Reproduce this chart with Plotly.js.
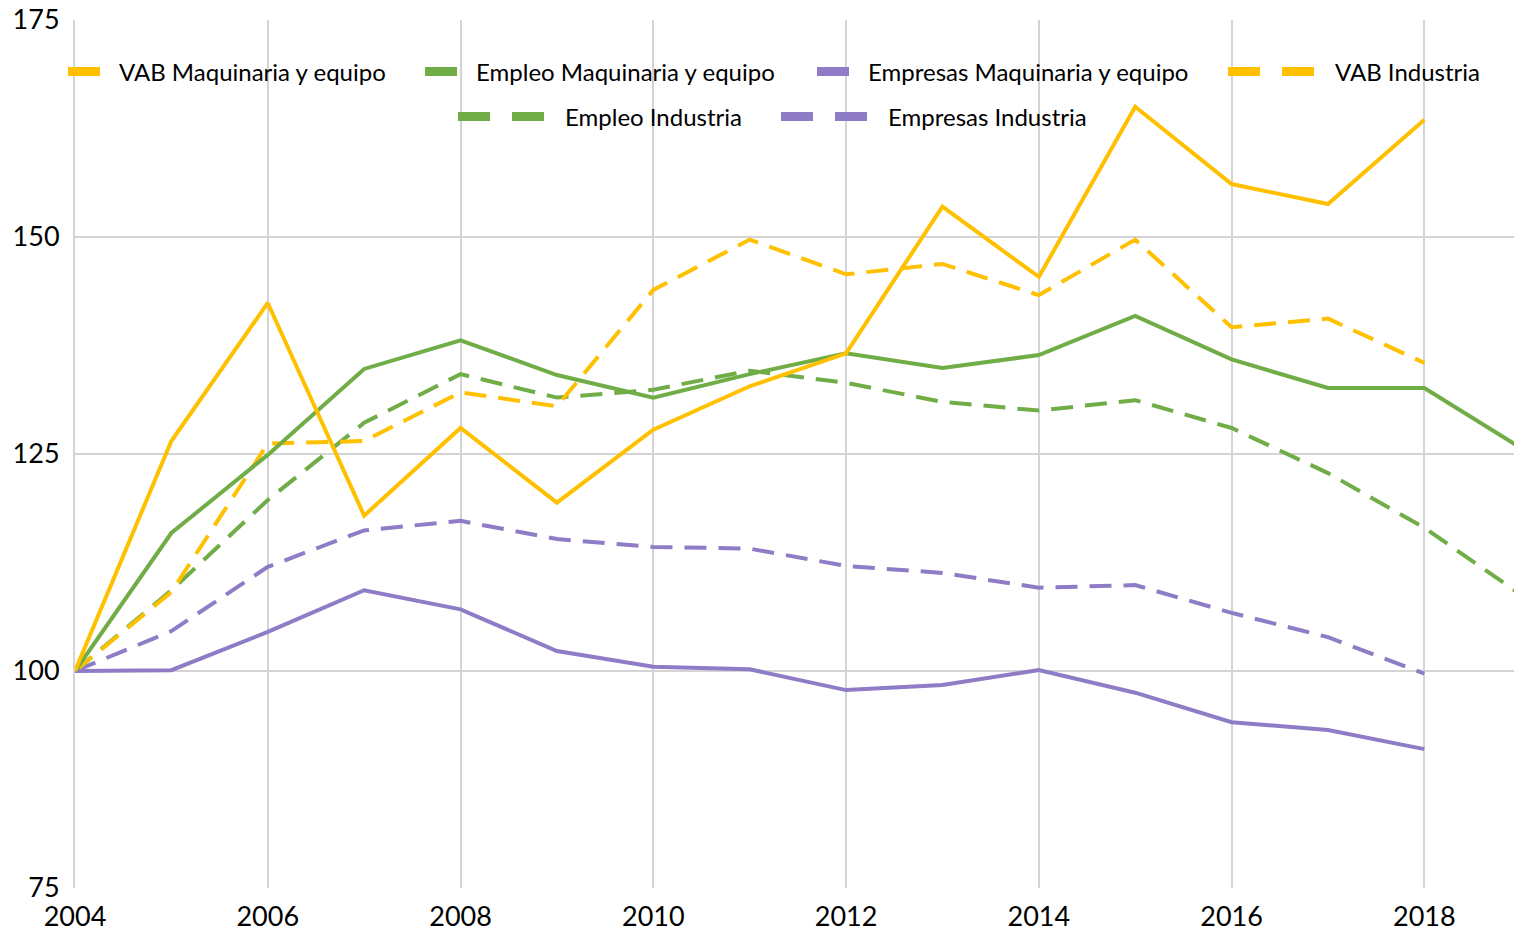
<!DOCTYPE html>
<html>
<head>
<meta charset="utf-8">
<script src="https://cdn.plot.ly/plotly-3.0.1.min.js"></script>
<style>html,body{margin:0;padding:0;background:#fff;}#chart{width:1514px;height:934px;}</style>
</head>
<body>
<div id="chart"></div>
<script>
const years = [2004,2005,2006,2007,2008,2009,2010,2011,2012,2013,2014,2015,2016,2017,2018];
const yearsExt = [2004,2005,2006,2007,2008,2009,2010,2011,2012,2013,2014,2015,2016,2017,2018,2019];
const vabMaq = [100,126.5,142.4,117.9,128,119.4,127.8,132.8,136.6,153.5,145.4,165,156.1,153.8,163.5];
const empleoMaq = [100,115.9,124.9,134.8,138.1,134.1,131.5,134.2,136.6,134.9,136.4,140.9,135.9,132.6,132.6,125.7];
const empresasMaq = [100,100.1,104.5,109.3,107.1,102.3,100.5,100.2,97.8,98.4,100.1,97.5,94.1,93.2,91.0];
const vabInd = [100,109.1,126.2,126.5,132.1,130.5,143.9,149.7,145.7,146.9,143.3,149.7,139.6,140.6,135.5];
const empleoInd = [100,109.3,119.7,128.6,134.2,131.5,132.4,134.6,133.2,131.0,130.0,131.2,128.0,122.8,116.5,108.8];
const empresasInd = [100,104.6,112.0,116.2,117.3,115.2,114.3,114.1,112.1,111.3,109.6,109.9,106.7,103.9,99.7];
const names = ["VAB Maquinaria y equipo","Empleo Maquinaria y equipo","Empresas Maquinaria y equipo","VAB Industria","Empleo Industria","Empresas Industria"];
const yTicks = [75,100,125,150,175];
const xTicks = [2004,2006,2008,2010,2012,2014,2016,2018];

const YEL = "#FFC000", GRN = "#70AD47", PUR = "#8E7CC6";
const DASH = "22px,12px";
const W = 4;

const series = [
  {x: years, y: vabMaq, c: YEL, d: "solid"},
  {x: yearsExt, y: empleoMaq, c: GRN, d: "solid"},
  {x: years, y: empresasMaq, c: PUR, d: "solid"},
  {x: years, y: vabInd, c: YEL, d: DASH},
  {x: yearsExt, y: empleoInd, c: GRN, d: DASH},
  {x: years, y: empresasInd, c: PUR, d: DASH}
];
const order = [5,4,3,2,1,0];
const traces = [];
order.forEach(i => {
  const s = series[i];
  traces.push({x: s.x, y: s.y, type: "scatter", mode: "lines", name: names[i], showlegend: false,
    line: {color: s.c, width: W, dash: s.d}, hoverinfo: "x+y"});
});
const legendIds = ["legend","legend2","legend3","legend4","legend5","legend6"];
series.forEach((s, i) => {
  traces.push({x: [null], y: [null], type: "scatter", mode: "lines", name: names[i],
    legend: legendIds[i],
    line: {color: s.c, width: 9, dash: s.d === "solid" ? "32px,200px" : "32px,22px"}});
});

const plotL = 75, plotW = 1439, plotT = 20, plotH = 868;
const legPos = [[68,72],[425,72],[817,72],[1228,72],[458,117],[781,117]];
const layout = {
  width: 1514, height: 934,
  margin: {l: plotL, r: 0, t: plotT, b: 934 - plotT - plotH},
  paper_bgcolor: "#fff", plot_bgcolor: "#fff",
  font: {family: "Lato, 'Open Sans', sans-serif", size: 24, color: "#000"},
  showlegend: true,
  xaxis: {range: [2004, 2018.93], tickvals: xTicks, ticktext: xTicks.map(String),
    showgrid: true, gridcolor: "#D4D4D4", gridwidth: 2, zeroline: false,
    showline: false, ticks: "", tickfont: {size: 27}, ticklabelstandoff: 10},
  yaxis: {range: [75, 175], tickvals: yTicks, ticktext: yTicks.map(String),
    showgrid: true, gridcolor: "#D4D4D4", gridwidth: 2, zeroline: false,
    showline: true, linecolor: "#D4D4D4", linewidth: 2, ticks: "", tickfont: {size: 27},
    ticklabelstandoff: 8}
};
legendIds.forEach((id, i) => {
  const [px, py] = legPos[i];
  const dashed = i >= 3;
  layout[id] = {orientation: "h", x: (px - 5 - plotL) / plotW, xanchor: "left",
    y: (plotT + plotH - py) / plotH, yanchor: "middle",
    bgcolor: "rgba(0,0,0,0)", font: {size: 24}, itemwidth: dashed ? 102 : 46};
});
Plotly.newPlot("chart", traces, layout, {displayModeBar: false, staticPlot: true});
</script>
</body>
</html>
